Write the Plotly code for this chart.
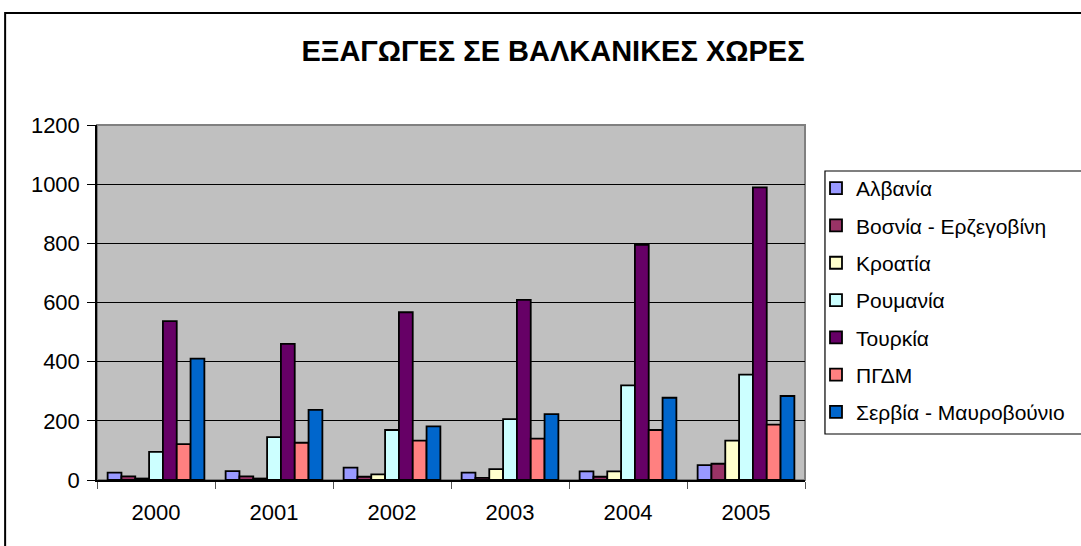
import plotly.graph_objects as go

years = ["2000", "2001", "2002", "2003", "2004", "2005"]
series_names = ["Αλβανία", "Βοσνία - Ερζεγοβίνη", "Κροατία", "Ρουμανία",
                "Τουρκία", "ΠΓΔΜ", "Σερβία - Μαυροβούνιο"]
albania = [25, 30, 42, 25, 29, 50]
bosnia = [12, 12, 11, 7, 11, 55]
croatia = [5, 5, 19, 37, 29, 133]
romania = [95, 145, 169, 206, 320, 356]
turkey = [537, 460, 567, 609, 795, 989]
fyrom = [121, 126, 133, 140, 169, 187]
serbia = [410, 237, 181, 223, 278, 284]
values = [albania, bosnia, croatia, romania, turkey, fyrom, serbia]
colors = ["#9999FF", "#993366", "#FFFFCC", "#CCFFFF", "#660066", "#FF8080", "#0066CC"]
y_ticks = [0, 200, 400, 600, 800, 1000, 1200]

W, H = 1081, 546
L, R, T, B = 97, 806, 125, 480
pw, ph = R - L, B - T


def px(x):
    return (x - L) / pw


def py(y):
    return (B - y) / ph


FONT = "Liberation Sans, Arial, sans-serif"

fig = go.Figure()
for i, (name, vals, col) in enumerate(zip(series_names, values, colors)):
    fig.add_trace(go.Bar(
        x=years, y=vals, name=name, legendgroup=f"g{i}",
        marker=dict(color=col, line=dict(color="black", width=1.8)),
    ))

fig.update_layout(
    width=W, height=H,
    margin=dict(l=L, r=W - R, t=T, b=H - B),
    paper_bgcolor="white",
    plot_bgcolor="#C0C0C0",
    barmode="group", bargap=0.18, bargroupgap=0,
    font=dict(family=FONT, color="black"),
    title=dict(text="<b>ΕΞΑΓΩΓΕΣ ΣΕ ΒΑΛΚΑΝΙΚΕΣ ΧΩΡΕΣ</b>",
               font=dict(size=29, family=FONT, color="black"),
               xref="container", x=553 / W, xanchor="center",
               yref="container", y=1 - 51 / H, yanchor="middle"),
    legend=dict(x=px(816), xanchor="left", y=py(168), yanchor="top",
                bgcolor="rgba(0,0,0,0)", borderwidth=0,
                font=dict(size=21, family=FONT, color="black"),
                tracegroupgap=7, itemwidth=30),
    xaxis=dict(type="category", tickson="boundaries", ticks="outside",
               ticklen=7, tickcolor="#555555", showline=True,
               linecolor="black", linewidth=1.5, showgrid=False,
               ticklabelstandoff=12,
               tickfont=dict(size=22, family=FONT, color="black")),
    yaxis=dict(range=[0, 1200], tickvals=y_ticks, ticks="outside",
               ticklen=8, tickcolor="black", showline=True,
               linecolor="black", linewidth=1.5, showgrid=True,
               gridcolor="black", gridwidth=1, zeroline=False,
               ticklabelstandoff=3,
               tickfont=dict(size=22, family=FONT, color="black")),
    shapes=[
        dict(type="rect", xref="paper", yref="paper", x0=0, x1=1, y0=0, y1=1,
             line=dict(color="#808080", width=2), layer="below"),
        dict(type="rect", xref="paper", yref="paper",
             x0=px(5), x1=px(1095), y0=py(560), y1=py(13),
             line=dict(color="black", width=2)),
        dict(type="rect", xref="paper", yref="paper",
             x0=px(826), x1=px(1095), y0=py(434), y1=py(171),
             line=dict(color="black", width=1.2)),
    ],
)

fig.write_html("out.html", config={"displayModeBar": False},
               post_script="document.body.style.margin='0';")
